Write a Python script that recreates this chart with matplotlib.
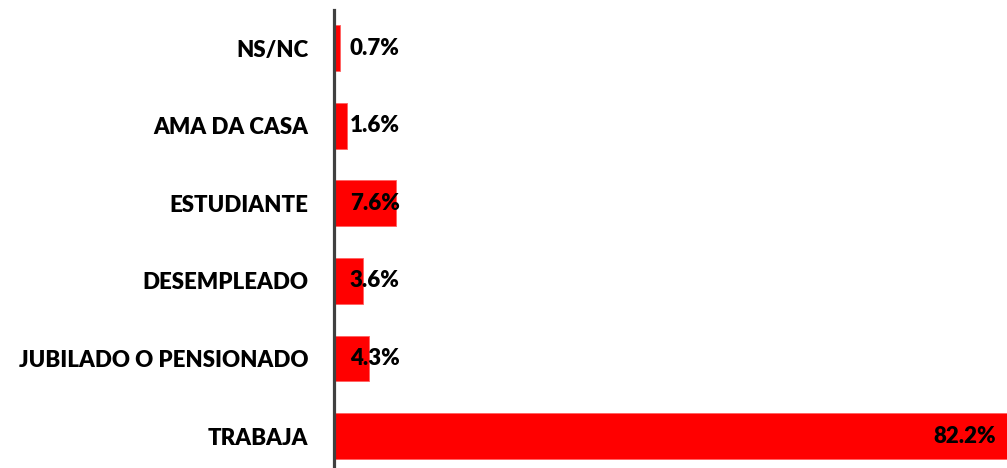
import matplotlib.pyplot as plt
import numpy as np

plt.rcParams['font.family'] = ['Lato', 'DejaVu Sans']

categorias = ['TRABAJA', 'JUBILADO O PENSIONADO', 'DESEMPLEADO', 'ESTUDIANTE', 'AMA DA CASA', 'NS/NC']
valores = [82.2, 4.3, 3.6, 7.6, 1.6, 0.7]
etiquetas = ['82.2%', '4.3%', '3.6%', '7.6%', '1.6%', '0.7%']

fig = plt.figure(figsize=(10.07, 4.68), dpi=100)
ax = fig.add_axes([334/1007, 0, 673/1007, 458/468])

y = np.arange(len(categorias))
ax.barh(y, valores, height=0.59, color='#ff0000', edgecolor='#ff6060', linewidth=0.6)

ax.set_xlim(0, 82.2)
ax.set_ylim(-0.41, 5.49)
ax.set_yticks(y)
ax.set_yticklabels(categorias, fontsize=16, fontweight='heavy')
ax.tick_params(axis='y', length=0, pad=18.5)
ax.set_xticks([])

for s in ['top', 'right', 'bottom']:
    ax.spines[s].set_visible(False)
ax.spines['left'].set_color('#404040')
ax.spines['left'].set_linewidth(2.3)

# etiquetas de datos
for i, (v, t) in enumerate(zip(valores, etiquetas)):
    if v > 50:
        ax.text(v - 1.3, i, t, ha='right', va='center', fontsize=16, fontweight='heavy')
    else:
        ax.text(1.95, i, t, ha='left', va='center', fontsize=16, fontweight='heavy')

plt.savefig('out.png', dpi=100)
